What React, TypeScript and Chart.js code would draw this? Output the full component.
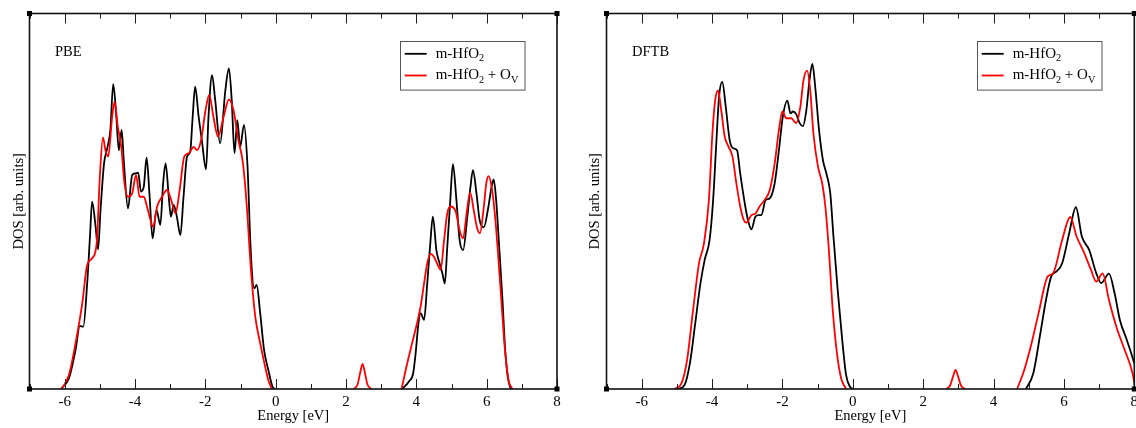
import React, { useEffect, useRef } from "react";
import { Chart, registerables } from "chart.js";

Chart.register(...registerables);

// ---------- Text / ticks ----------
const X_MIN = -7;
const X_MAX = 8;
const xLabelValues = [-6, -4, -2, 0, 2, 4, 6, 8];
const seriesLabels = ["m-HfO_2", "m-HfO_2 + O_V"];
const seriesColors = ["#000000", "#ff0000"];
const panelTitles = ["PBE", "DFTB"];
const xAxisTitle = "Energy [eV]";
const yAxisTitle = "DOS [arb. units]";

// ---------- PBE : m-HfO2 (black) ----------
const pbeBulkValE = [-6.11, -5.88, -5.69, -5.57, -5.47, -5.36, -5.28, -5.22, -5.12, -5.05, -4.98, -4.88, -4.79, -4.7, -4.62, -4.53, -4.46, -4.38, -4.32, -4.2, -4.08, -3.99, -3.91, -3.83, -3.75, -3.67, -3.59, -3.5, -3.39, -3.28, -3.2, -3.13, -3.04, -2.98, -2.9, -2.81, -2.71, -2.62, -2.52, -2.43, -2.36, -2.29, -2.19, -2.1, -1.98, -1.91, -1.81, -1.72, -1.58, -1.43, -1.33, -1.25, -1.17, -1.09, -1.01, -0.9, -0.8, -0.71, -0.61, -0.54, -0.44, -0.33, -0.21, -0.09, -0.02];
const pbeBulkValDos = [0, 2.8, 10.4, 16.8, 16.6, 28.1, 40.6, 49.9, 43.2, 37.2, 47.7, 60.1, 64.1, 69, 81.2, 72.5, 63.6, 69, 61, 48.1, 57, 57.4, 57.6, 52.6, 53.9, 61.6, 52.1, 40.1, 47.7, 43.7, 54.8, 60.1, 51.2, 45.9, 49, 45.9, 41, 51.2, 61.9, 63.2, 72.5, 80.5, 72.5, 66.3, 58.5, 72.5, 83.6, 77, 65.4, 79.6, 85.4, 77, 62.8, 71.6, 64.5, 70.3, 59.2, 37, 26.8, 27.7, 20.2, 10.4, 5.1, 0.6, 0];
const pbeBulkCondE = [3.6, 3.79, 3.91, 3.98, 4.06, 4.12, 4.22, 4.31, 4.39, 4.47, 4.57, 4.66, 4.74, 4.81, 4.88, 4.96, 5.04, 5.14, 5.23, 5.33, 5.45, 5.54, 5.61, 5.71, 5.8, 5.92, 6.05, 6.14, 6.2, 6.27, 6.35, 6.45, 6.52, 6.6, 6.68];
const pbeBulkCondDos = [0, 2, 4.2, 9.5, 17.5, 20.2, 18.4, 28.1, 37.9, 45.9, 37, 33.5, 30.8, 28.1, 37.9, 49.4, 59.9, 50.3, 39.7, 37, 45.9, 53.9, 58.3, 52.1, 45, 43.1, 48.6, 53.9, 55.8, 50.3, 38.8, 23.7, 11.3, 3.3, 0];

// ---------- PBE : m-HfO2 + Ov (red) ----------
const pbeVacValE = [-6.09, -5.88, -5.69, -5.5, -5.36, -5.22, -5.09, -5.0, -4.91, -4.84, -4.76, -4.65, -4.58, -4.49, -4.39, -4.3, -4.2, -4.08, -3.97, -3.87, -3.75, -3.66, -3.56, -3.49, -3.37, -3.23, -3.09, -2.97, -2.85, -2.73, -2.6, -2.47, -2.33, -2.24, -2.12, -2.0, -1.89, -1.77, -1.64, -1.48, -1.33, -1.2, -1.06, -0.93, -0.82, -0.71, -0.58, -0.44, -0.33, -0.21, -0.11];
const pbeVacValDos = [0, 3.7, 12.2, 22.8, 33, 34.8, 38.8, 56.5, 67, 63.6, 61.9, 72.5, 76.5, 69.9, 64.5, 54.8, 51.2, 52.1, 57, 51.2, 51.2, 48.6, 45, 43.2, 48.6, 51.2, 53, 50.3, 46.8, 53, 61.9, 62.8, 64.5, 63.6, 66.3, 73.9, 78.3, 72.5, 67.2, 72.5, 77.1, 74.3, 66.3, 60.1, 48.6, 32.6, 19.3, 12.2, 7.3, 2.4, 0];
const pbeVacGapE = [2.22, 2.33, 2.4, 2.47, 2.54, 2.61, 2.72];
const pbeVacGapDos = [0, 1.2, 4.2, 6.7, 4.2, 1.2, 0];
const pbeVacCondE = [3.58, 3.74, 3.89, 4.03, 4.12, 4.22, 4.31, 4.41, 4.5, 4.63, 4.69, 4.79, 4.88, 4.98, 5.12, 5.23, 5.33, 5.43, 5.53, 5.64, 5.73, 5.81, 5.91, 5.99, 6.05, 6.14, 6.24, 6.33, 6.43, 6.52, 6.62, 6.73];
const pbeVacCondDos = [0, 6.8, 12.6, 17.9, 21.9, 28.1, 33.5, 36, 35.2, 32.6, 31.7, 39.7, 46.8, 48.6, 47.2, 42.3, 40.1, 46.8, 52.3, 47.2, 42.8, 41.5, 47.7, 54.8, 56.7, 53.9, 45.9, 35.2, 21.9, 10.4, 2.4, 0];

// ---------- DFTB : m-HfO2 (black) ----------
const dftbBulkValE = [-4.96, -4.78, -4.63, -4.49, -4.33, -4.21, -4.07, -3.97, -3.88, -3.8, -3.71, -3.61, -3.5, -3.4, -3.29, -3.2, -3.07, -2.98, -2.88, -2.77, -2.68, -2.6, -2.48, -2.36, -2.22, -2.1, -1.99, -1.86, -1.77, -1.7, -1.61, -1.51, -1.42, -1.32, -1.23, -1.15, -1.06, -0.96, -0.85, -0.74, -0.64, -0.55, -0.43, -0.3, -0.19, -0.08, 0.02];
const dftbBulkValDos = [0, 1.1, 6.8, 16.6, 28.1, 34.4, 39.7, 50.3, 65.4, 77.9, 81.8, 75.1, 66.3, 64.1, 63.6, 57.4, 49.4, 45, 42.5, 45.9, 46.3, 46.3, 50.3, 50.8, 54.8, 63.6, 72.5, 76.8, 73.4, 73.9, 73.2, 70.8, 70, 74.3, 82.3, 86.6, 79.6, 69, 61, 57, 52.1, 40.6, 26.4, 13, 3.7, 0.6, 0];
const dftbBulkCondE = [4.92, 5.13, 5.33, 5.49, 5.64, 5.79, 5.95, 6.15, 6.34, 6.51, 6.72, 6.92, 7.06, 7.28, 7.44, 7.59, 7.79, 8.0, 8.1];
const dftbBulkCondDos = [0, 4.2, 14.8, 23.7, 30, 31.3, 33.5, 41.5, 48.4, 40.6, 37, 30.8, 28.2, 30.7, 25.5, 18.4, 13, 6.8, 3];

// ---------- DFTB : m-HfO2 + Ov (red) ----------
const dftbVacValE = [-5.06, -4.87, -4.71, -4.54, -4.37, -4.23, -4.09, -3.99, -3.91, -3.83, -3.74, -3.64, -3.53, -3.42, -3.31, -3.2, -3.1, -3.03, -2.88, -2.76, -2.65, -2.51, -2.36, -2.22, -2.1, -2.0, -1.89, -1.75, -1.61, -1.49, -1.4, -1.3, -1.21, -1.12, -0.99, -0.87, -0.78, -0.68, -0.57, -0.45, -0.33, -0.19];
const dftbVacValDos = [0, 1.5, 7.7, 21, 33.5, 38.8, 50.3, 68.1, 77, 79.5, 74.3, 67.2, 64.5, 61.9, 54.8, 48.6, 45, 44.3, 46.3, 46.8, 48.6, 50.3, 53, 60.1, 69, 73.9, 72.1, 72.1, 70.8, 75.2, 82.3, 84.8, 79.6, 68.1, 59.2, 54.8, 48.6, 37, 21, 9.5, 2.8, 0];
const dftbVacGapE = [2.66, 2.77, 2.85, 2.92, 2.99, 3.07, 3.18];
const dftbVacGapDos = [0, 1, 3.4, 5.1, 3.4, 1, 0];
const dftbVacCondE = [4.67, 4.87, 5.08, 5.28, 5.54, 5.69, 5.95, 6.18, 6.36, 6.56, 6.77, 6.92, 7.1, 7.28, 7.49, 7.69, 7.95, 8.03];
const dftbVacCondDos = [0, 5, 12.2, 20.2, 30, 30.8, 39.7, 45.8, 40.6, 36.6, 31.7, 28.6, 30.8, 23.7, 16.6, 11.3, 4.2, 0];

const FONT_FAMILY = '"Liberation Serif", "Times New Roman", "DejaVu Serif", serif';

type Pt = { x: number; y: number | null };

function joinBands(bands: Array<[number[], number[]]>): Pt[] {
  const out: Pt[] = [];
  bands.forEach(([es, ds], i) => {
    if (i > 0) {
      const prev = out[out.length - 1].x;
      out.push({ x: (prev + es[0]) / 2, y: null });
    }
    es.forEach((e, j) => out.push({ x: e, y: ds[j] }));
  });
  return out;
}

function drawRichText(ctx: CanvasRenderingContext2D, text: string, x: number, y: number, size: number) {
  let cx = x;
  let i = 0;
  while (i < text.length) {
    if (text[i] === "_" && i + 1 < text.length) {
      ctx.font = `${size * 0.68}px ${FONT_FAMILY}`;
      ctx.fillText(text[i + 1], cx, y + size * 0.3);
      cx += ctx.measureText(text[i + 1]).width;
      i += 2;
    } else {
      let j = i;
      while (j < text.length && text[j] !== "_") j++;
      const s = text.slice(i, j);
      ctx.font = `${size}px ${FONT_FAMILY}`;
      ctx.fillText(s, cx, y);
      cx += ctx.measureText(s).width;
      i = j;
    }
  }
}

const framePlugin = {
  id: "dosFrame",
  afterDraw(chart: any, _args: any, opts: any) {
    const { ctx, chartArea: a } = chart;
    const xs = chart.scales.x;
    ctx.save();
    // inward tick marks, top and bottom
    ctx.strokeStyle = "#222";
    ctx.lineWidth = 1;
    for (let v = X_MIN; v <= X_MAX; v += 1) {
      const px = Math.round(xs.getPixelForValue(v)) + 0.5;
      const len = v % 2 === 0 ? 10 : 5;
      ctx.beginPath();
      ctx.moveTo(px, a.bottom);
      ctx.lineTo(px, a.bottom - len);
      ctx.moveTo(px, a.top);
      ctx.lineTo(px, a.top + len);
      ctx.stroke();
    }
    // frame
    ctx.lineWidth = 1.6;
    ctx.strokeStyle = "#111";
    ctx.strokeRect(a.left, a.top, a.right - a.left, a.bottom - a.top);
    // corner markers
    ctx.fillStyle = "#000";
    [
      [a.left, a.top],
      [a.right, a.top],
      [a.left, a.bottom],
      [a.right, a.bottom],
    ].forEach(([cx, cy]) => ctx.fillRect(cx - 2.5, cy - 2.5, 5, 5));
    // panel title
    ctx.fillStyle = "#000";
    ctx.textBaseline = "middle";
    ctx.textAlign = "left";
    ctx.font = `14.5px ${FONT_FAMILY}`;
    ctx.fillText(opts.title, a.left + 25.5, a.top + 38.5);
    // legend
    const bx = Math.round(a.right - 157.5);
    const by = Math.round(a.top + 27);
    const bw = 124.5;
    const bh = 48.6;
    ctx.fillStyle = "#fff";
    ctx.fillRect(bx, by, bw, bh);
    ctx.strokeStyle = "#555";
    ctx.lineWidth = 1;
    ctx.strokeRect(bx + 0.5, by + 0.5, bw, bh);
    chart.data.datasets.forEach((ds: any, i: number) => {
      const ly = by + 12.8 + i * 21.7;
      ctx.strokeStyle = ds.borderColor;
      ctx.lineWidth = 1.8;
      ctx.beginPath();
      ctx.moveTo(bx + 4.7, ly);
      ctx.lineTo(bx + 26.7, ly);
      ctx.stroke();
      ctx.fillStyle = "#000";
      drawRichText(ctx, ds.label, bx + 35.7, ly, 15);
    });
    ctx.restore();
  },
};

type PanelProps = {
  title: string;
  bulk: Pt[];
  vac: Pt[];
  left: number;
  width: number;
  yAxisWidth: number;
  rightPad: number;
  yTitlePad: number;
};

function DosPanel(p: PanelProps) {
  const ref = useRef<HTMLCanvasElement>(null);
  useEffect(() => {
    if (!ref.current) return;
    const chart = new Chart(ref.current, {
      type: "line",
      data: {
        datasets: [
          {
            label: seriesLabels[0],
            data: p.bulk as any,
            borderColor: seriesColors[0],
            borderWidth: 1.8,
            pointRadius: 0,
            cubicInterpolationMode: "monotone",
            spanGaps: false,
            fill: false,
            order: 1,
          },
          {
            label: seriesLabels[1],
            data: p.vac as any,
            borderColor: seriesColors[1],
            borderWidth: 1.8,
            pointRadius: 0,
            cubicInterpolationMode: "monotone",
            spanGaps: false,
            fill: false,
            order: 0,
          },
        ],
      },
      options: {
        responsive: false,
        animation: false,
        devicePixelRatio: 1,
        layout: { padding: { left: 0, right: p.rightPad, top: 13.5, bottom: 0 } },
        plugins: {
          legend: { display: false },
          tooltip: { enabled: false },
          dosFrame: { title: p.title },
        } as any,
        scales: {
          x: {
            type: "linear",
            min: X_MIN,
            max: X_MAX,
            grid: { display: false, drawTicks: false },
            border: { display: false },
            ticks: {
              stepSize: 1,
              autoSkip: false,
              maxRotation: 0,
              padding: 4,
              color: "#000",
              font: { family: FONT_FAMILY, size: 15 },
              callback: (v: any) => (xLabelValues.includes(Number(v)) ? String(v) : ""),
            },
            title: {
              display: true,
              text: xAxisTitle,
              color: "#000",
              font: { family: FONT_FAMILY, size: 14.5 },
              padding: { top: 0, bottom: 3.5 },
            },
            afterFit: (s: any) => {
              s.height = 39;
            },
          },
          y: {
            type: "linear",
            min: 0,
            max: 100,
            grid: { display: false, drawTicks: false },
            border: { display: false },
            ticks: { display: false },
            title: {
              display: true,
              text: yAxisTitle,
              color: "#000",
              font: { family: FONT_FAMILY, size: 14.5 },
              padding: { top: p.yTitlePad, bottom: 0 },
            },
            afterFit: (s: any) => {
              s.width = p.yAxisWidth;
            },
          },
        },
      },
      plugins: [framePlugin],
    });
    return () => chart.destroy();
  }, []);
  return (
    <canvas
      ref={ref}
      width={p.width}
      height={428}
      style={{ position: "absolute", left: p.left, top: 0, width: p.width, height: 428 }}
    />
  );
}

export default function App() {
  const pbeBulk = joinBands([
    [pbeBulkValE, pbeBulkValDos],
    [pbeBulkCondE, pbeBulkCondDos],
  ]);
  const pbeVac = joinBands([
    [pbeVacValE, pbeVacValDos],
    [pbeVacGapE, pbeVacGapDos],
    [pbeVacCondE, pbeVacCondDos],
  ]);
  const dftbBulk = joinBands([
    [dftbBulkValE, dftbBulkValDos],
    [dftbBulkCondE, dftbBulkCondDos],
  ]);
  const dftbVac = joinBands([
    [dftbVacValE, dftbVacValDos],
    [dftbVacGapE, dftbVacGapDos],
    [dftbVacCondE, dftbVacCondDos],
  ]);
  return (
    <div
      style={{
        position: "fixed",
        left: 0,
        top: 0,
        width: 1136,
        height: 428,
        overflow: "hidden",
        background: "#fff",
      }}
    >
      <DosPanel
        title={panelTitles[0]}
        bulk={pbeBulk}
        vac={pbeVac}
        left={0}
        width={568}
        yAxisWidth={29.5}
        rightPad={11}
        yTitlePad={10.5}
      />
      <DosPanel
        title={panelTitles[1]}
        bulk={dftbBulk}
        vac={dftbVac}
        left={568}
        width={580}
        yAxisWidth={38.5}
        rightPad={13.7}
        yTitlePad={18.5}
      />
    </div>
  );
}
